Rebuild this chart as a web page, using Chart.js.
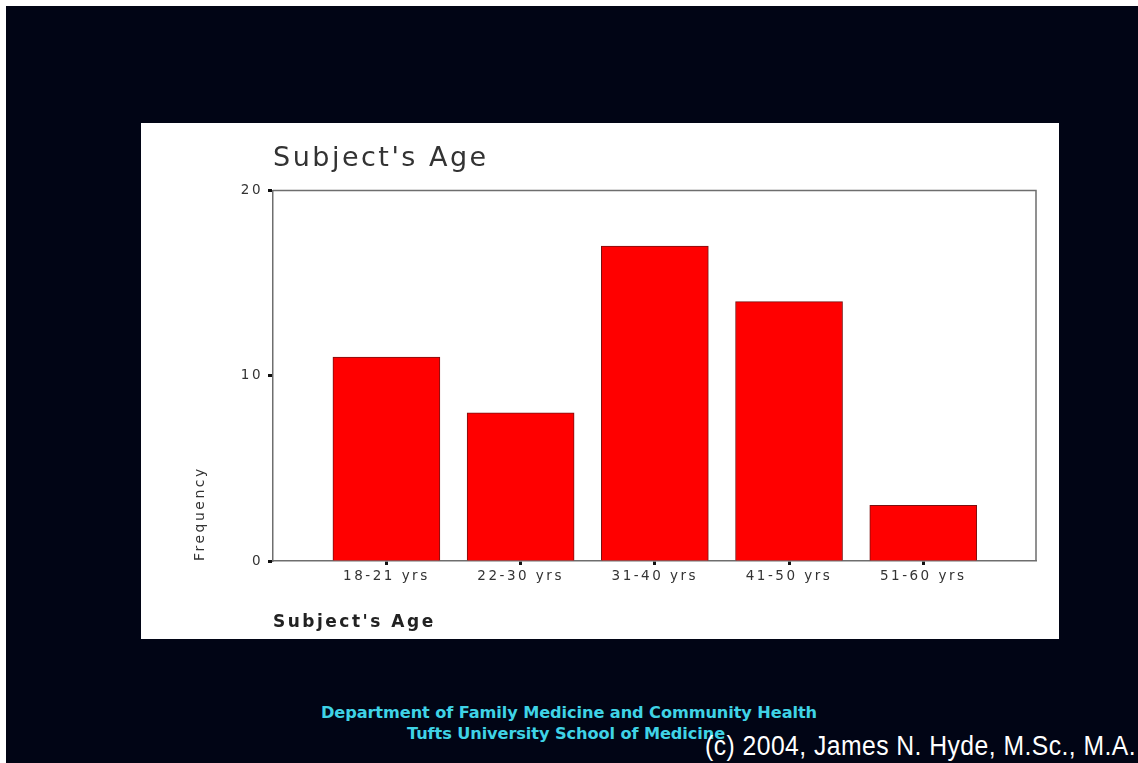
<!DOCTYPE html>
<html>
<head>
<meta charset="utf-8">
<script src="https://cdn.jsdelivr.net/npm/chart.js@4/dist/chart.umd.min.js"></script>
<style>
  html, body { margin: 0; padding: 0; }
  body { width: 1138px; height: 763px; background: #ffffff; position: relative; overflow: hidden; }
  #bg { position: absolute; left: 6px; top: 6px; width: 1132px; height: 757px; background: #010515; }
  #panel { position: absolute; left: 141px; top: 123px; width: 918px; height: 516px; background: #ffffff; }
  #panel canvas { display: block; }
  .foot { position: absolute; font-family: "DejaVu Sans", sans-serif; font-weight: bold; color: #3fd3e6; font-size: 16.2px; white-space: nowrap; text-align: center; letter-spacing: -0.1px; }
  #f1 { left: 269px; width: 600px; top: 703px; }
  #f2 { left: 266px; width: 600px; top: 724px; }
  #copy { position: absolute; left: 705px; top: 731px; font-family: "Liberation Sans", sans-serif; font-size: 27px; color: #ffffff; white-space: nowrap; letter-spacing: 0.5px; transform: scaleX(0.915); transform-origin: 0 0; }
</style>
</head>
<body>
<div id="bg"></div>
<div id="panel"><canvas id="c" width="918" height="516"></canvas></div>
<div class="foot" id="f1">Department of Family Medicine and Community Health</div>
<div class="foot" id="f2">Tufts University School of Medicine</div>
<div id="copy">(c) 2004, James N. Hyde, M.Sc., M.A.</div>
<script>
const categories = ["18-21 yrs", "22-30 yrs", "31-40 yrs", "41-50 yrs", "51-60 yrs"];
const frequency = [11, 8, 17, 14, 3];
const yTicks = [0, 10, 20];
const chartTitle = "Subject's Age";
const xTitle = "Subject's Age";
const yTitle = "Frequency";

const spacingPlugin = {
  id: 'spacing',
  beforeLayout(chart) { chart.ctx.letterSpacing = '2.5px'; },
  beforeDraw(chart) { chart.ctx.letterSpacing = '2.5px'; }
};
const framePlugin = {
  id: 'frame',
  afterDraw(chart) {
    const a = chart.chartArea, ctx = chart.ctx;
    ctx.save();
    ctx.strokeStyle = '#6e6e6e';
    ctx.lineWidth = 1.5;
    ctx.beginPath();
    ctx.moveTo(a.left, a.top); ctx.lineTo(a.right, a.top); ctx.lineTo(a.right, a.bottom);
    ctx.stroke();
    ctx.restore();
  }
};

new Chart(document.getElementById('c'), {
  type: 'bar',
  data: {
    datasets: [{
      data: frequency.map((v, i) => ({ x: i, y: v })),
      backgroundColor: '#ff0000',
      borderColor: '#7a1010',
      borderWidth: 1,
      barThickness: 107
    }]
  },
  options: {
    responsive: false,
    animation: false,
    layout: { padding: { left: 0, right: 23, top: 0, bottom: 8 } },
    plugins: {
      legend: { display: false },
      tooltip: { enabled: false },
      title: {
        display: true,
        text: chartTitle,
        align: 'start',
        fullSize: false,
        color: '#333333',
        font: { family: 'DejaVu Sans', size: 27, weight: 'normal', lineHeight: 1.2 },
        padding: { top: 20, bottom: 15 }
      }
    },
    scales: {
      x: {
        type: 'linear',
        offset: false,
        min: -0.845,
        max: 4.84,
        afterBuildTicks(scale) { scale.ticks = categories.map((_, i) => ({ value: i })); },
        afterFit(scale) { scale.height = 70; },
        ticks: {
          autoSkip: false,
          maxRotation: 0,
          padding: 3,
          color: '#333333',
          font: { family: 'DejaVu Sans', size: 13.5 },
          callback: (v) => categories[v] !== undefined ? categories[v] : ''
        },
        grid: { display: true, offset: false, drawOnChartArea: false, tickLength: 4, tickColor: '#111111', tickWidth: 3 },
        border: { display: true, color: '#6e6e6e', width: 1.5 },
        title: {
          display: true,
          text: xTitle,
          align: 'start',
          color: '#222222',
          font: { family: 'DejaVu Sans', size: 17, weight: 'bold', lineHeight: 1 },
          padding: { top: 0, bottom: 0 }
        }
      },
      y: {
        min: 0,
        max: 20,
        afterBuildTicks(scale) { scale.ticks = yTicks.map(v => ({ value: v })); },
        afterFit(scale) { scale.width = 132; },
        ticks: {
          padding: 5,
          color: '#333333',
          font: { family: 'DejaVu Sans', size: 13.5 }
        },
        grid: { display: true, drawOnChartArea: false, tickLength: 5, tickColor: '#111111', tickWidth: 3 },
        border: { display: true, color: '#6e6e6e', width: 1.5 },
        title: {
          display: true,
          text: yTitle,
          align: 'start',
          color: '#333333',
          font: { family: 'DejaVu Sans', size: 14, weight: 'normal', lineHeight: 1.2 },
          padding: { top: 51, bottom: 0 }
        }
      }
    }
  },
  plugins: [spacingPlugin, framePlugin]
});
</script>
</body>
</html>
